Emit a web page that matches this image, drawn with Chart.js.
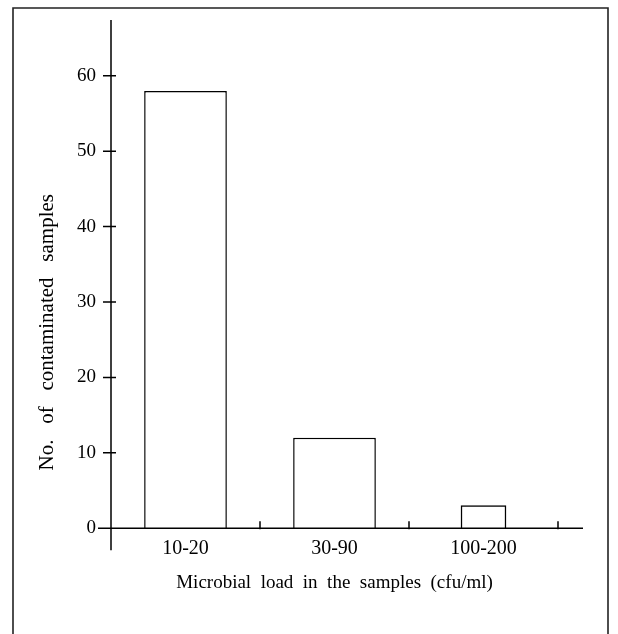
<!DOCTYPE html>
<html>
<head>
<meta charset="utf-8">
<script src="https://cdn.jsdelivr.net/npm/chart.js@4"></script>
<style>
  html, body { margin: 0; padding: 0; background: #fff; }
  #wrap { width: 618px; height: 634px; }
</style>
</head>
<body>
<div id="wrap"><canvas id="myChart"></canvas></div>
<script>
    var categories = ['10-20', '30-90', '100-200'];
    var samples = [58, 12, 3];
    var yTicks = [0, 10, 20, 30, 40, 50, 60];

    var serif = "'Liberation Serif', 'DejaVu Serif', serif";

    // the last class is drawn as a narrower box in the original
    var wideData = samples.map((v, i) => i < 2 ? v : null);
    var narrowData = samples.map((v, i) => i < 2 ? null : v);

    // frame round the figure, axis lines, crossing y ticks and boundary ticks on the x axis
    const axesPlugin = {
        id: 'axesPlugin',
        afterDraw(chart) {
            const c = chart.ctx;
            const a = chart.chartArea;
            const x = chart.scales.x;
            const y = chart.scales.y;
            const y0 = y.getPixelForValue(0);
            c.save();
            c.strokeStyle = '#222';
            c.lineWidth = 1.6;
            c.beginPath();
            c.moveTo(13, 634);
            c.lineTo(13, 8);
            c.lineTo(608, 8);
            c.lineTo(608, 634);
            c.stroke();

            c.strokeStyle = '#000';
            c.lineWidth = 1.5;
            c.beginPath();
            c.moveTo(a.left, a.top);
            c.lineTo(a.left, y0 + 22);
            c.moveTo(a.left - 13, y0);
            c.lineTo(a.right + 25, y0);
            yTicks.forEach(v => {
                if (v === 0) return;
                const py = y.getPixelForValue(v);
                c.moveTo(a.left - 8, py);
                c.lineTo(a.left + 5, py);
            });
            const half = (x.getPixelForTick(1) - x.getPixelForTick(0)) / 2;
            for (let i = 0; i < categories.length; i++) {
                const px = x.getPixelForTick(i) + half;
                c.moveTo(px, y0 + 1);
                c.lineTo(px, y0 - 7);
            }
            c.stroke();
            c.restore();
        }
    };

    const ctx = document.getElementById('myChart').getContext('2d');
    const myChart = new Chart(ctx, {
        type: 'bar',
        data: {
            labels: categories,
            datasets: [{
                    label: 'No. of contaminated samples',
                    data: wideData,
                    backgroundColor: '#fff',
                    borderColor: '#000',
                    borderWidth: 1.5,
                    barPercentage: 0.555,
                    categoryPercentage: 1,
                    grouped: false
                }, {
                    label: 'No. of contaminated samples ',
                    data: narrowData,
                    backgroundColor: '#fff',
                    borderColor: '#000',
                    borderWidth: 1.5,
                    barThickness: 45,
                    grouped: false
                }]
        },
        options: {
            responsive: true,
            maintainAspectRatio: false,
            animation: false,
            layout: { padding: { top: 20, right: 60, left: 0, bottom: 40 } },
            plugins: { legend: { display: false }, tooltip: { enabled: false } },
            scales: {
                x: {
                    grid: { display: false, drawTicks: false },
                    border: { display: false },
                    ticks: { color: '#000', font: { family: serif, size: 20 }, padding: 9 },
                    title: {
                        display: true,
                        text: 'Microbial  load  in  the  samples  (cfu/ml)',
                        color: '#000',
                        font: { family: serif, size: 19 },
                        padding: { top: 1, bottom: 0 }
                    }
                },
                y: {
                    min: 0,
                    max: 67.4,
                    afterBuildTicks: function (s) { s.ticks = yTicks.map(v => ({ value: v })); },
                    afterFit: function (s) { s.width = 111; s.paddingTop = 0; s.paddingBottom = 0; },
                    grid: { display: false, drawTicks: false },
                    border: { display: false },
                    ticks: { color: '#000', font: { family: serif, size: 19 }, padding: 15 },
                    title: {
                        display: true,
                        align: 'start',
                        // leading blanks lift the title off the axis foot as in the original
                        text: '           No.   of   contaminated   samples',
                        color: '#000',
                        font: { family: serif, size: 21 },
                        padding: { top: 35, bottom: 0 }
                    }
                }
            }
        },
        plugins: [axesPlugin]
    });
</script>
</body>
</html>
